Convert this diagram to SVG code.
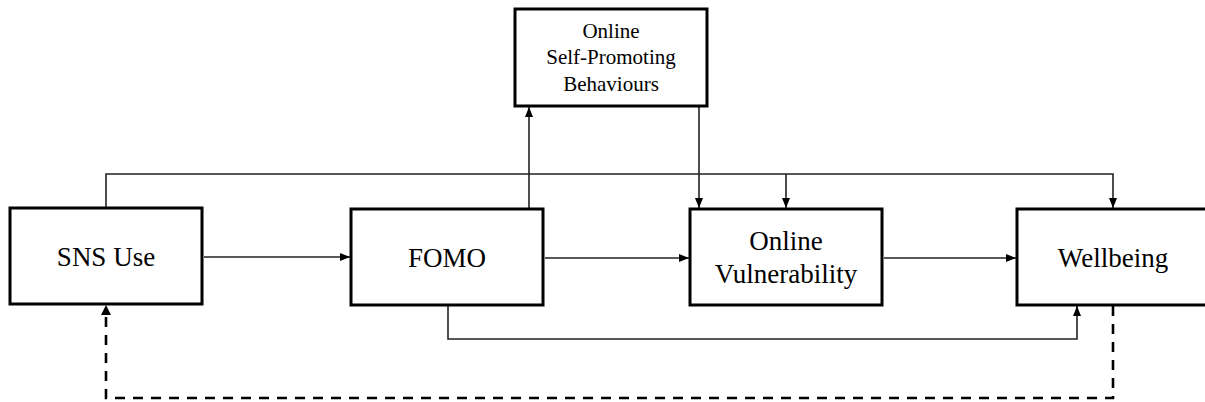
<svg xmlns="http://www.w3.org/2000/svg" width="1205" height="402" viewBox="0 0 1205 402">
<style>
.box{fill:#fff;stroke:#000;stroke-width:3}
.t{font-size:27px;fill:#000;text-anchor:middle}
.ts{font-size:21px;fill:#000;text-anchor:middle}
.c{fill:none;stroke:#222;stroke-width:1.6}
.d{fill:none;stroke:#000;stroke-width:2.6;stroke-dasharray:10 8}
</style>
<defs>
<marker id="ah" viewBox="0 0 10 8" refX="10" refY="4" markerWidth="10" markerHeight="8" markerUnits="userSpaceOnUse" orient="auto">
<path d="M0,0 L10,4 L0,8 Z" fill="#000"/>
</marker>
</defs>
<rect width="1205" height="402" fill="#fff"/>
<g id="connectors">
<path class="c" d="M106,208 V174 H1113 V208" marker-end="url(#ah)"/>
<path class="c" d="M786,174 V208" marker-end="url(#ah)"/>
<path class="c" d="M204,257 H350" marker-end="url(#ah)"/>
<path class="c" d="M529,209 V107" marker-end="url(#ah)"/>
<path class="c" d="M699,106 V208" marker-end="url(#ah)"/>
<path class="c" d="M545,258 H689" marker-end="url(#ah)"/>
<path class="c" d="M884,258 H1016" marker-end="url(#ah)"/>
<path class="c" d="M448,306 V339 H1077 V306" marker-end="url(#ah)"/>
<path class="d" d="M1113,306 V398 H106 V315"/>
<path d="M101,315 L106,305 L111,315 Z" fill="#000"/>
</g>
<g font-family="Liberation Serif, DejaVu Serif, Times New Roman, serif">
<g id="sns">
<rect class="box" x="10" y="208" width="192" height="96"/>
<text class="t" x="106" y="266">SNS Use</text>
</g>
<g id="fomo">
<rect class="box" x="351" y="209" width="192" height="96"/>
<text class="t" x="447" y="267">FOMO</text>
</g>
<g id="ospb">
<rect class="box" x="515" y="9" width="192" height="97"/>
<text class="ts" x="611" y="38">Online</text>
<text class="ts" x="611" y="64">Self-Promoting</text>
<text class="ts" x="611" y="91">Behaviours</text>
</g>
<g id="ov">
<rect class="box" x="690" y="209" width="192" height="96"/>
<text class="t" x="786" y="250">Online</text>
<text class="t" x="786" y="283">Vulnerability</text>
</g>
<g id="wellbeing">
<rect class="box" x="1017" y="209" width="192" height="96"/>
<text class="t" x="1113" y="267">Wellbeing</text>
</g>
</g>
</svg>
